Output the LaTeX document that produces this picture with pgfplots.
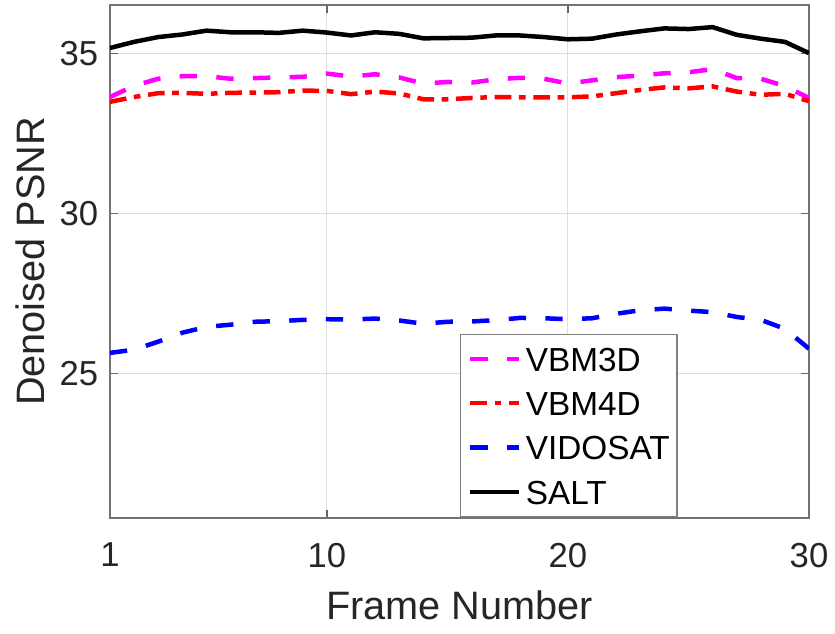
\documentclass[border=0pt]{standalone}
\usepackage{fontspec}
\setmainfont{Liberation Sans}
\usepackage{pgfplots}
\usepackage{pgfplotstable}
\pgfplotsset{compat=1.18}
\definecolor{mmag}{rgb}{1,0,1}
\definecolor{mred}{rgb}{1,0,0}
\definecolor{mblue}{rgb}{0,0,1}
\pgfplotstableread{
frame vbm3d vbm4d vidosat salt
1  33.63 33.48 25.65 35.16
2  33.98 33.63 25.75 35.35
3  34.20 33.75 26.00 35.50
4  34.28 33.76 26.28 35.58
5  34.28 33.73 26.46 35.70
6  34.20 33.76 26.53 35.65
7  34.22 33.77 26.62 35.65
8  34.24 33.78 26.64 35.63
9  34.26 33.83 26.68 35.70
10 34.36 33.82 26.70 35.64
11 34.27 33.72 26.69 35.55
12 34.34 33.80 26.72 35.65
13 34.24 33.74 26.66 35.60
14 34.05 33.56 26.56 35.46
15 34.10 33.56 26.62 35.47
16 34.08 33.60 26.63 35.48
17 34.18 33.63 26.67 35.55
18 34.23 33.62 26.74 35.55
19 34.20 33.62 26.73 35.50
20 34.05 33.62 26.70 35.43
21 34.15 33.65 26.73 35.45
22 34.25 33.75 26.87 35.58
23 34.30 33.85 26.98 35.68
24 34.37 33.93 27.03 35.77
25 34.40 33.90 26.97 35.75
26 34.50 33.96 26.92 35.81
27 34.22 33.80 26.77 35.57
28 34.20 33.70 26.68 35.45
29 33.97 33.73 26.40 35.35
30 33.60 33.50 25.78 35.00
}\psnrdata
\begin{document}
\begin{tikzpicture}
\begin{axis}[
  width=209.7pt, height=153.9pt, scale only axis,
  xmin=1, xmax=30, ymin=20.5, ymax=36.5,
  xtick={1,10,20,30}, ytick={25,30,35},
  tick align=inside, major tick length=2.3pt,
  grid=major,
  major grid style={color=black!13, line width=0.3pt},
  axis line style={black!55, line width=0.4pt},
  tick style={black!60, line width=0.35pt},
  /pgf/number format/assume math mode=true,
  ticklabel style={font=\fontsize{10.4}{12}\selectfont, text=black!85},
  xticklabel style={yshift=-4pt},
  xlabel={Frame Number}, ylabel={Denoised PSNR},
  ylabel shift=-2.4pt,
  label style={font=\fontsize{11.9}{14}\selectfont, text=black!85},
  legend style={
    at={(rel axis cs:0.5007,0.002)}, anchor=south west,
    draw=black!50, line width=0.4pt,
    inner xsep=2.2pt, inner ysep=3.6pt,
    font=\fontsize{10}{12}\selectfont,
    nodes={inner xsep=0pt, inner ysep=0pt, text height=7.5pt, text depth=0pt},
    row sep=5.8pt, column sep=1.5pt,
  },
  legend cell align=left,
  legend image code/.code={\draw[#1] (0pt,0pt) -- (14.5pt,0pt);},
]
\addplot[mmag, line width=1.35pt, dash pattern=on 5.2pt off 5.8pt] table[x=frame, y=vbm3d] {\psnrdata};
\addlegendentry{VBM3D}
\addplot[mred, line width=1.35pt, dash pattern=on 5pt off 2.3pt on 2pt off 2.3pt] table[x=frame, y=vbm4d] {\psnrdata};
\addlegendentry{VBM4D}
\addplot[mblue, line width=1.35pt, dash pattern=on 5.2pt off 5.8pt] table[x=frame, y=vidosat] {\psnrdata};
\addlegendentry{VIDOSAT}
\addplot[black, line width=1.35pt] table[x=frame, y=salt] {\psnrdata};
\addlegendentry{SALT}
\end{axis}
\pgfresetboundingbox
\path[use as bounding box] ([xshift=-33pt,yshift=-34.5pt]current axis.south west) rectangle ([xshift=7.8pt,yshift=1.5pt]current axis.north east);
\end{tikzpicture}
\end{document}
